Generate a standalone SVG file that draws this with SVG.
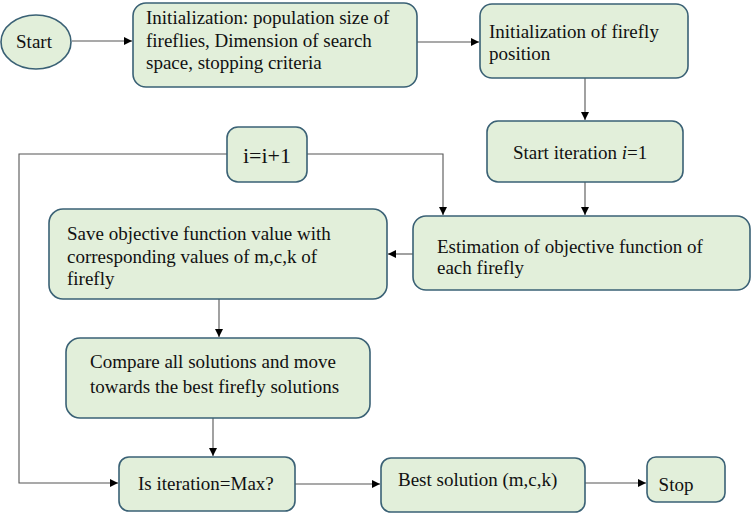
<svg xmlns="http://www.w3.org/2000/svg" width="752" height="514" viewBox="0 0 752 514">
<defs>
<style>
.box{fill:#e2efda;stroke:#3a6175;stroke-width:1.6}
.t{font-family:"Liberation Serif","Times New Roman",serif;font-size:19px;fill:#111}
.c{fill:none;stroke:#555;stroke-width:1.1}
</style>
<marker id="ah" viewBox="0 0 10 10" refX="10" refY="5" markerWidth="8" markerHeight="8" orient="auto" markerUnits="userSpaceOnUse"><path d="M0,0 L10,5 L0,10 z" fill="#000"/></marker>
</defs>
<rect width="752" height="514" fill="#fff"/>
<g id="connectors">
<line class="c" x1="72" y1="41" x2="132" y2="41" marker-end="url(#ah)"/>
<line class="c" x1="417" y1="42" x2="479" y2="42" marker-end="url(#ah)"/>
<line class="c" x1="585" y1="78" x2="585" y2="120" marker-end="url(#ah)"/>
<line class="c" x1="585" y1="182" x2="585" y2="215" marker-end="url(#ah)"/>
<polyline class="c" points="307,154 443,154 443,215" marker-end="url(#ah)"/>
<line class="c" x1="413" y1="254" x2="388" y2="254" marker-end="url(#ah)"/>
<line class="c" x1="219" y1="299" x2="219" y2="337" marker-end="url(#ah)"/>
<line class="c" x1="213" y1="418" x2="213" y2="456" marker-end="url(#ah)"/>
<polyline class="c" points="227,154 19,154 19,483 118,483" marker-end="url(#ah)"/>
<line class="c" x1="295" y1="484" x2="380" y2="484" marker-end="url(#ah)"/>
<line class="c" x1="585" y1="483" x2="646" y2="483" marker-end="url(#ah)"/>
</g>
<g id="start">
<ellipse class="box" cx="36" cy="42" rx="35" ry="27"/>
<text class="t" x="34" y="48" text-anchor="middle">Start</text>
</g>
<g id="init">
<rect class="box" x="133" y="3" width="284" height="84" rx="13"/>
<text class="t" x="146" y="24">Initialization: population size of</text>
<text class="t" x="146" y="47">fireflies, Dimension of search</text>
<text class="t" x="146" y="69">space, stopping criteria</text>
</g>
<g id="initpos">
<rect class="box" x="480" y="4" width="208" height="74" rx="12"/>
<text class="t" x="489" y="38">Initialization of firefly</text>
<text class="t" x="489" y="60">position</text>
</g>
<g id="startiter">
<rect class="box" x="487" y="121" width="196" height="61" rx="11"/>
<text class="t" x="513" y="159">Start iteration <tspan font-style="italic">i</tspan>=1</text>
</g>
<g id="incr">
<rect class="box" x="227" y="127" width="80" height="55" rx="11"/>
<text class="t" x="267" y="163" text-anchor="middle" style="font-size:22px">i=i+1</text>
</g>
<g id="estimate">
<rect class="box" x="413" y="216" width="337" height="74" rx="13"/>
<text class="t" x="437" y="253">Estimation of objective function of</text>
<text class="t" x="437" y="274">each firefly</text>
</g>
<g id="save">
<rect class="box" x="49" y="209" width="338" height="90" rx="14"/>
<text class="t" x="67" y="240">Save objective function value with</text>
<text class="t" x="67" y="263">corresponding values  of m,c,k of</text>
<text class="t" x="67" y="285">firefly</text>
</g>
<g id="compare">
<rect class="box" x="66" y="338" width="304" height="80" rx="14"/>
<text class="t" x="90" y="368">Compare all solutions and move</text>
<text class="t" x="90" y="393">towards the best firefly solutions</text>
</g>
<g id="check">
<rect class="box" x="119" y="457" width="176" height="54" rx="10"/>
<text class="t" x="138" y="490">Is iteration=Max?</text>
</g>
<g id="best">
<rect class="box" x="381" y="458" width="204" height="54" rx="10"/>
<text class="t" x="398" y="486">Best solution (m,c,k)</text>
</g>
<g id="stop">
<rect class="box" x="647" y="457" width="78" height="45" rx="9"/>
<text class="t" x="676" y="491" text-anchor="middle">Stop</text>
</g>
</svg>
